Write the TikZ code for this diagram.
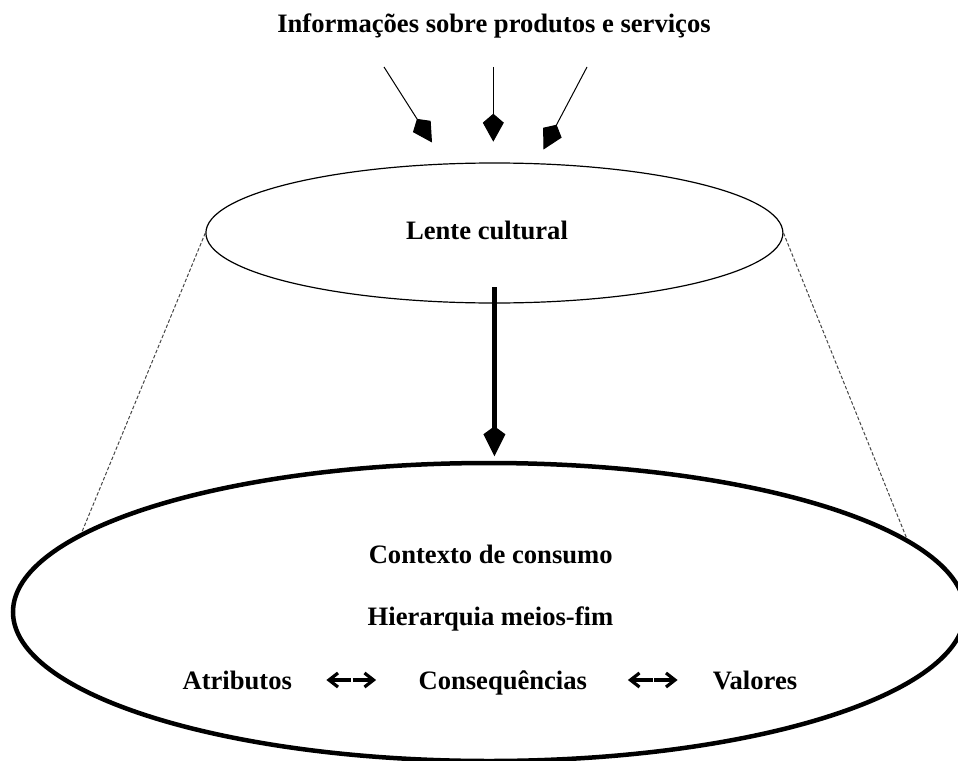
\documentclass[tikz,border=0pt]{standalone}
\usepackage{fontspec}
\setmainfont{Liberation Serif}
\usetikzlibrary{shapes.geometric,arrows.meta}
\tikzset{
  lbl/.style={font=\fontsize{26.6}{32}\selectfont\bfseries, inner sep=0pt, anchor=base},
  inflow/.style={line width=1pt, -{Kite[length=28pt 0, width=21pt 0, inset=9pt 0]}},
  lensbox/.style={ellipse, draw, line width=1.2pt, inner sep=0pt,
    minimum width=577pt, minimum height=140pt},
  ctxbox/.style={ellipse, draw, line width=4.5pt, inner sep=0pt,
    minimum width=952pt, minimum height=298pt},
  guide/.style={line width=1pt, black!72, dash pattern=on 3.5pt off 2pt},
  flow/.style={line width=4.5pt, -{Kite[length=30pt 0, width=22pt 0, inset=8pt 0]}},
  glyph/.style={line width=3.2pt, line join=miter}
}
\begin{document}
\begin{tikzpicture}[x=1pt,y=-1pt]
\useasboundingbox (0,0) rectangle (958,760);

% title and the three incoming arrows
\node[lbl] (title) at (494,33) {Informações sobre produtos e serviços};
\coordinate (inA) at (384,67);
\coordinate (inB) at (493.3,67);
\coordinate (inC) at (587,67);
\coordinate (outA) at (432,142.5);
\coordinate (outB) at (493.3,141.7);
\coordinate (outC) at (543.5,149.5);
\draw[inflow] (inA) -- (outA);
\draw[inflow] (inB) -- (outB);
\draw[inflow] (inC) -- (outC);

% cultural lens
\node[lensbox] (lens) at (494.4,233) {};
\node[lbl] (lenstext) at (487,239) {Lente cultural};

% consumption context
\node[ctxbox] (ctx) at (489,612) {};
\node[lbl] (c1) at (490.7,563.3) {Contexto de consumo};
\node[lbl] (c2) at (490.5,625.5) {Hierarquia meios-fim};
\node[lbl] (attr) at (237.3,689.5) {Atributos};
\node[lbl] (cons) at (502.8,689.5) {Consequências};
\node[lbl] (val) at (755,689.5) {Valores};

% double arrows between the three levels
\coordinate (ar1) at (327.5,680);
\coordinate (ar2) at (629,680);
\foreach \p in {ar1,ar2}{
  \begin{scope}[shift={(\p)}]
    \draw[glyph] (10.5,-7) -- (1.5,0) -- (10.5,7);
    \draw[glyph] (1.5,0) -- (23.5,0);
    \draw[glyph] (37,-7) -- (46,0) -- (37,7);
    \draw[glyph] (25,0) -- (46,0);
  \end{scope}
}

% cone outline between the two ellipses
\draw[guide] (lens.west) -- (ctx.169.1);
\draw[guide] (lens.east) -- (ctx.10.4);

% downward flow
\draw[flow] ([yshift=16.4pt]lens.center |- lens.south) -- ([yshift=4.5pt]lens.center |- ctx.north);
\end{tikzpicture}
\end{document}
